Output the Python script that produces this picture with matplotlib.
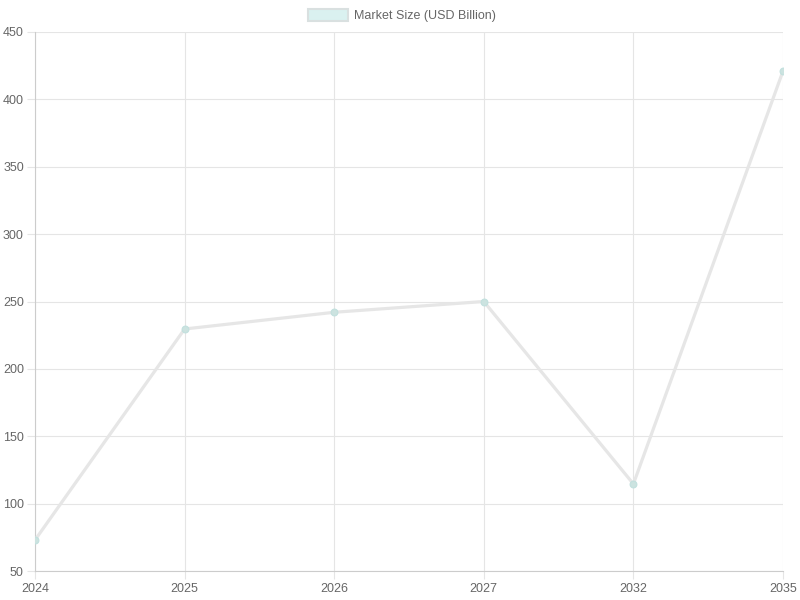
import numpy as np
import matplotlib
matplotlib.use("Agg")
import matplotlib.pyplot as plt
from matplotlib.patches import Rectangle

years = ["2024", "2025", "2026", "2027", "2032", "2035"]
market_size = [73, 229.6, 242, 250, 114.6, 421]
series_label = "Market Size (USD Billion)"

plt.rcParams['font.family'] = ['Liberation Sans', 'DejaVu Sans']

fig = plt.figure(figsize=(8, 6), dpi=100)
ax = fig.add_axes([35/800, 1 - 571/600, 748/800, 539/600])

x = np.arange(len(years))
ax.plot(x, market_size, color='#e6e6e6', linewidth=2.3, zorder=3,
        solid_joinstyle='miter')
ax.scatter(x, market_size, s=24, facecolor=(0.80, 0.89, 0.88),
           edgecolor=(0.76, 0.88, 0.87), linewidth=0.8, zorder=4)

ax.set_xlim(0, len(years) - 1)
ax.set_ylim(50, 450)
ax.set_xticks(x)
ax.set_xticklabels(years)
ax.set_yticks(np.arange(50, 451, 50))

ax.grid(True, color='#e5e5e5', linewidth=0.8, zorder=0)
for s in ['top', 'right']:
    ax.spines[s].set_visible(False)
for s in ['left', 'bottom']:
    ax.spines[s].set_color('#cccccc')
    ax.spines[s].set_linewidth(0.8)
ax.tick_params(axis='both', colors='#e5e5e5', labelcolor='#666666',
               labelsize=9, length=6, width=0.8)
ax.tick_params(axis='x', pad=3)
ax.tick_params(axis='y', pad=2)
ax.set_axisbelow(True)

# legend drawn like chart.js
fig.patches.append(Rectangle((308/800, 1 - 21/600), 40/800, 12/600,
                             transform=fig.transFigure, facecolor='#daf1f0',
                             edgecolor='#d9e0e0', linewidth=1.5))
fig.text(354/800, 1 - 15.5/600, series_label, fontsize=9, color='#666666',
         va='center', ha='left')

fig.savefig("out.png", dpi=100)
